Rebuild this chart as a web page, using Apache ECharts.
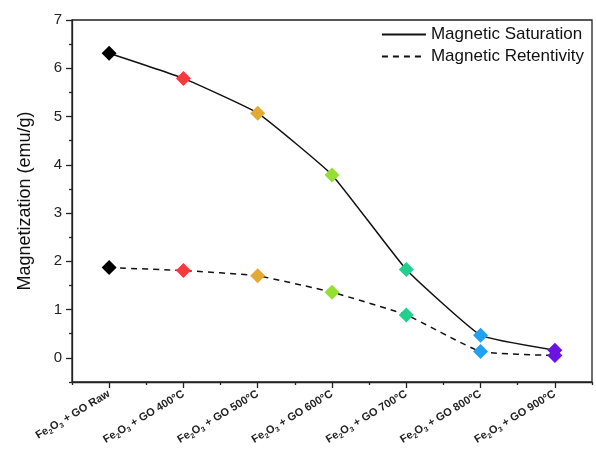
<!DOCTYPE html>
<html>
<head>
<meta charset="utf-8">
<script src="https://cdn.jsdelivr.net/npm/echarts@6/dist/echarts.min.js"></script>
<style>
  html, body { margin: 0; padding: 0; background: #fff; }
  #chart { width: 596px; height: 449px; }
</style>
</head>
<body>
<div id="chart"></div>
<script>
const temps = ['Raw', '400°C', '500°C', '600°C', '700°C', '800°C', '900°C'];
const saturation = [6.31, 5.79, 5.07, 3.79, 1.83, 0.47, 0.16];
const retentivity = [1.87, 1.81, 1.70, 1.36, 0.89, 0.13, 0.05];
const markerColors = ['#000000', '#f23c3c', '#e2aa32', '#94e032', '#20d08c', '#20a2f2', '#6c12e2'];
const yTicks = [0, 1, 2, 3, 4, 5, 6, 7];
const yMinor = [-0.5, 0.5, 1.5, 2.5, 3.5, 4.5, 5.5, 6.5];
const xTicks = [0, 1, 2, 3, 4, 5, 6];
const xMinor = [-0.5, 0.5, 1.5, 2.5, 3.5, 4.5, 5.5, 6.5];

const chart = echarts.init(document.getElementById('chart'), null, { renderer: 'canvas' });

function pts(vals) {
  return vals.map((v, i) => ({
    value: [i, v],
    itemStyle: { color: markerColors[i] }
  }));
}

const font = 'Liberation Sans, Arial, sans-serif';
const axisLine = { onZero: false, lineStyle: { color: '#222', width: 1.3 } };

chart.setOption({
  animation: false,
  textStyle: { fontFamily: font },
  grid: { left: 72, right: 4, top: 20, bottom: 67, show: true, borderColor: '#222', borderWidth: 1.3 },
  legend: {
    right: 7, top: 21, orient: 'vertical', itemGap: 5, itemWidth: 44, itemHeight: 18,
    textStyle: { fontSize: 17, color: '#111', fontFamily: font },
    itemStyle: { opacity: 0 },
    data: ['Magnetic Saturation', 'Magnetic Retentivity']
  },
  xAxis: [
    {
      type: 'value', min: -0.5, max: 6.5, splitLine: { show: false }, axisLine,
      axisTick: { customValues: xTicks, length: 6, lineStyle: { color: '#222', width: 1.3 } },
      axisLabel: {
        customValues: xTicks, rotate: 31, margin: 11, color: '#222', fontWeight: 'bold',
        formatter: v => '{a|Fe}{s|2}{a|O}{s|3}{a| + GO ' + temps[v] + '}',
        rich: {
          a: { fontSize: 11, fontWeight: 'bold', color: '#222', fontFamily: font },
          s: { fontSize: 7, fontWeight: 'bold', color: '#222', padding: [7, 0, 0, 0], fontFamily: font }
        }
      }
    },
    {
      type: 'value', min: -0.5, max: 6.5, position: 'bottom', splitLine: { show: false },
      axisLine: { show: false, onZero: false },
      axisTick: { customValues: xMinor, length: 3, lineStyle: { color: '#222', width: 1.3 } },
      axisLabel: { show: false }
    }
  ],
  yAxis: [
    {
      type: 'value', min: -0.5, max: 7, splitLine: { show: false }, axisLine,
      name: 'Magnetization (emu/g)', nameLocation: 'middle', nameGap: 38,
      nameTextStyle: { fontSize: 18, color: '#111', fontFamily: font },
      axisTick: { customValues: yTicks, length: 6, lineStyle: { color: '#222', width: 1.3 } },
      axisLabel: { customValues: yTicks, fontSize: 15, color: '#222', margin: 10 }
    },
    {
      type: 'value', min: -0.5, max: 7, position: 'left', splitLine: { show: false },
      axisLine: { show: false, onZero: false },
      axisTick: { customValues: yMinor, length: 3, lineStyle: { color: '#222', width: 1.3 } },
      axisLabel: { show: false }
    }
  ],
  series: [
    {
      name: 'Magnetic Saturation', type: 'line', smooth: 0.12,
      symbol: 'diamond', symbolSize: 15,
      lineStyle: { color: '#111', width: 1.5, type: 'solid' },
      itemStyle: { color: '#111' },
      data: pts(saturation)
    },
    {
      name: 'Magnetic Retentivity', type: 'line', smooth: 0.12,
      symbol: 'diamond', symbolSize: 15,
      lineStyle: { color: '#111', width: 1.5, type: [6, 5] },
      itemStyle: { color: '#111' },
      data: pts(retentivity)
    }
  ]
});
</script>
</body>
</html>
